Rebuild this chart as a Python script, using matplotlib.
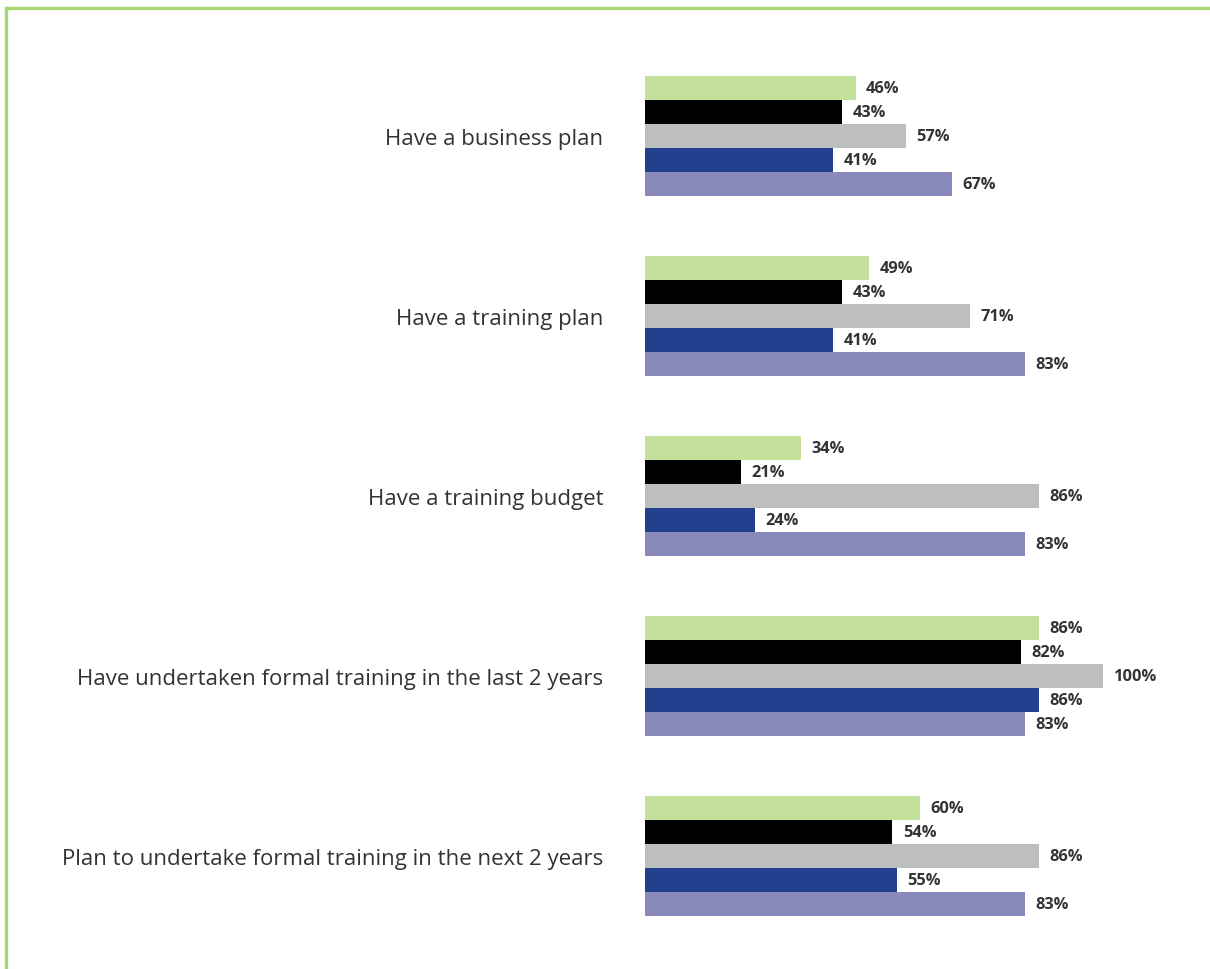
import matplotlib.pyplot as plt
import matplotlib.lines as mlines
import numpy as np

categories = [
    "Have a business plan",
    "Have a training plan",
    "Have a training budget",
    "Have undertaken formal training in the last 2 years",
    "Plan to undertake formal training in the next 2 years",
]

# one list per series, in drawing order within each group
s_green = [46, 49, 34, 86, 60]
s_black = [43, 43, 21, 82, 54]
s_grey = [57, 71, 86, 100, 86]
s_blue = [41, 41, 24, 86, 55]
s_purple = [67, 83, 83, 83, 83]

series = [s_green, s_black, s_grey, s_blue, s_purple]
colors = ["#c5df9d", "#000000", "#bdbec0", "#23408e", "#8a8aba"]

plt.rcParams['font.family'] = ['Open Sans', 'DejaVu Sans']

fig = plt.figure(figsize=(12.1, 9.7), dpi=100)
ax = fig.add_axes([645 / 1210, 23 / 970, 458 / 1210, 900 / 970])

y = np.arange(len(categories))
h = 24 / 180
for i, (vals, c) in enumerate(zip(series, colors)):
    pos = y + (i - 2) * h
    ax.barh(pos, vals, height=h, color=c, linewidth=0)
    for p, v in zip(pos, vals):
        ax.text(v + 2.3, p, f"{v}%", va='center', ha='left',
                fontsize=11.8, fontweight='bold', color='#333333')

ax.set_xlim(0, 100)
ax.set_ylim(4.5, -0.5)
ax.set_yticks(y)
ax.set_yticklabels(categories, fontsize=16, color='#333333')
ax.tick_params(axis='y', length=0, pad=30)
ax.set_xticks([])
for sp in ax.spines.values():
    sp.set_visible(False)

# green frame along the top and left edge
g = "#a9d670"
fig.add_artist(mlines.Line2D([5.5 / 1210, 1], [1 - 8.5 / 970, 1 - 8.5 / 970],
                             transform=fig.transFigure, color=g, linewidth=2.4))
fig.add_artist(mlines.Line2D([5.5 / 1210, 5.5 / 1210], [0, 1 - 8.5 / 970],
                             transform=fig.transFigure, color=g, linewidth=2.4))

fig.savefig("out.png", dpi=100)
plt.close()
